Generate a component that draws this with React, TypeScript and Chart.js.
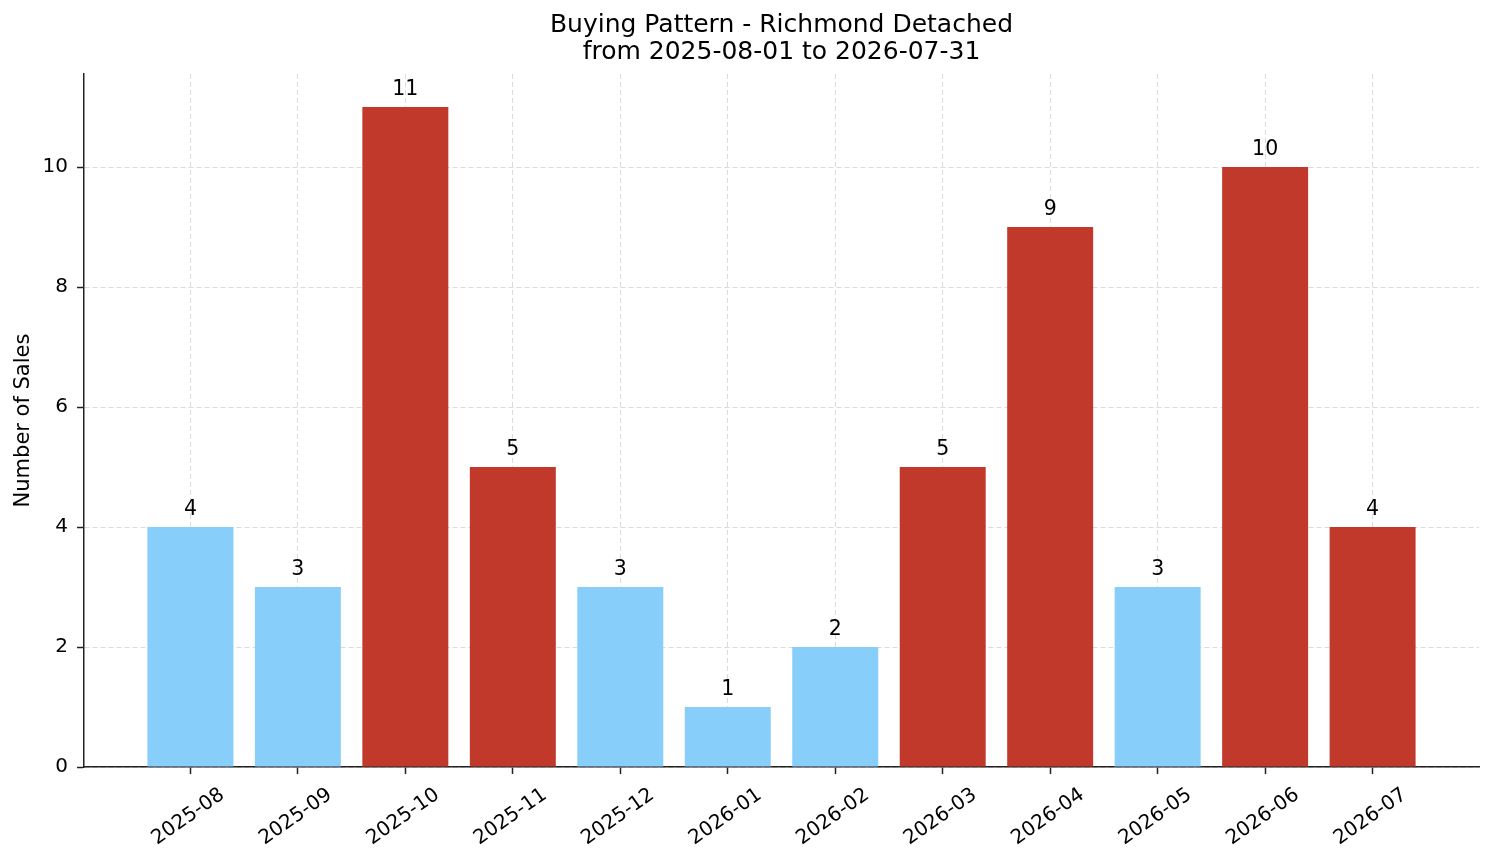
import React, { useEffect, useRef } from "react";
import { Chart, registerables } from "chart.js";

Chart.register(...registerables);

const months = [
  "2025-08", "2025-09", "2025-10", "2025-11", "2025-12", "2026-01",
  "2026-02", "2026-03", "2026-04", "2026-05", "2026-06", "2026-07",
];
const sales = [4, 3, 11, 5, 3, 1, 2, 5, 9, 3, 10, 4];
const highlighted = [false, false, true, true, false, false, false, true, true, false, true, true];
const yTicks = [0, 2, 4, 6, 8, 10];
const titleLines = ["Buying Pattern - Richmond Detached", "from 2025-08-01 to 2026-07-31"];

const BLUE = "#87CEFA";
const RED = "#C0392B";
const FONT = "DejaVu Sans";
const GRID = "rgba(176,176,176,0.45)";
const AXIS = "#222222";

// labels over each bar, placed through the y scale
const valueLabels = {
  id: "valueLabels",
  afterDraw(chart: any) {
    const { ctx } = chart;
    const y = chart.scales.y;
    const meta = chart.getDatasetMeta(0);
    ctx.save();
    ctx.font = `20.5px "${FONT}"`;
    ctx.fillStyle = "#000";
    ctx.textAlign = "center";
    ctx.textBaseline = "alphabetic";
    meta.data.forEach((bar: any, i: number) => {
      ctx.fillText(String(sales[i]), bar.x, y.getPixelForValue(sales[i] + 0.2));
    });
    ctx.restore();
  },
};

const App: React.FC = () => {
  const canvasRef = useRef<HTMLCanvasElement>(null);
  const chartRef = useRef<Chart>();

  useEffect(() => {
    if (!canvasRef.current) return;
    const ctx = canvasRef.current.getContext("2d");
    if (!ctx) return;
    Chart.defaults.font.family = FONT;
    Chart.defaults.color = "#000";

    const yMax = Math.max(...sales) * 1.05;
    const xPad = (months.length - 1 + 0.8) * 0.05 + 0.4;

    chartRef.current = new Chart(ctx, {
      type: "bar",
      data: {
        datasets: [
          {
            label: "Sales",
            data: sales.map((v, i) => ({ x: i, y: v })),
            backgroundColor: highlighted.map((h) => (h ? RED : BLUE)),
            borderWidth: 0,
            barPercentage: 0.8,
            categoryPercentage: 1,
          },
        ],
      },
      options: {
        responsive: false,
        animation: false,
        devicePixelRatio: 1,
        layout: { padding: { left: 0, right: 15, top: 0, bottom: 0 } },
        plugins: {
          legend: { display: false },
          tooltip: { enabled: false },
          title: {
            display: true,
            text: titleLines,
            fullSize: false,
            color: "#000",
            font: { family: FONT, size: 25, weight: "normal", lineHeight: 1.08 },
            padding: { top: 12, bottom: 8 },
          },
        },
        scales: {
          x: {
            type: "linear",
            offset: false,
            min: -xPad,
            max: months.length - 1 + xPad,
            z: 1,
            afterBuildTicks: (scale: any) => {
              scale.ticks = months.map((_, i) => ({ value: i }));
            },
            afterFit: (scale: any) => {
              scale.height = 96;
            },
            ticks: {
              autoSkip: false,
              minRotation: 35,
              maxRotation: 35,
              labelOffset: 32,
              padding: 9,
              color: "#000",
              font: { family: FONT, size: 20 },
              callback: (v: any) => months[v] ?? "",
            },
            grid: {
              offset: false,
              color: GRID,
              lineWidth: 1,
              tickColor: AXIS,
              tickLength: 7,
              tickWidth: 1.5,
            },
            border: { display: true, color: AXIS, width: 1.5, dash: [5, 3] },
          },
          y: {
            type: "linear",
            min: 0,
            max: yMax,
            z: 1,
            afterBuildTicks: (scale: any) => {
              scale.ticks = yTicks.map((v) => ({ value: v }));
            },
            afterFit: (scale: any) => {
              scale.width = 84;
            },
            ticks: {
              padding: 9,
              color: "#000",
              font: { family: FONT, size: 20 },
            },
            grid: {
              color: GRID,
              lineWidth: 1,
              tickColor: AXIS,
              tickLength: 7,
              tickWidth: 1.5,
            },
            border: { display: true, color: AXIS, width: 1.5, dash: [5, 3] },
            title: {
              display: true,
              text: "Number of Sales",
              color: "#000",
              font: { family: FONT, size: 21, lineHeight: 1.2 },
              padding: { top: 11, bottom: 0 },
            },
          },
        },
      },
      plugins: [valueLabels],
    });

    return () => {
      chartRef.current?.destroy();
    };
  }, []);

  return (
    <div style={{ position: "absolute", left: 0, top: 0, width: 1494, height: 863 }}>
      <canvas ref={canvasRef} width={1494} height={863} />
    </div>
  );
};

export default App;
